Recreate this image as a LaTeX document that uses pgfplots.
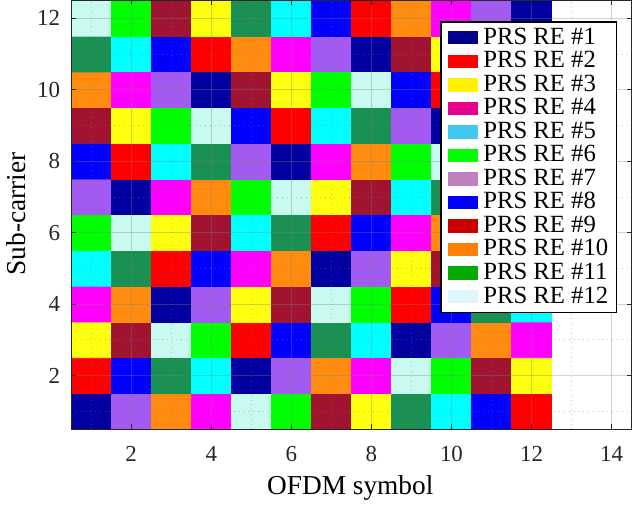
\documentclass[border=0pt]{standalone}
\usepackage{pgfplots}
\usepackage{pgfplotstable}
\pgfplotsset{compat=1.18}
\usepackage{fontspec}
\setmainfont{Liberation Serif}
\definecolor{axgray}{RGB}{38,38,38}
\definecolor{L1}{RGB}{0,0,140}
\definecolor{L2}{RGB}{255,0,0}
\definecolor{L3}{RGB}{255,240,0}
\definecolor{L4}{RGB}{230,0,140}
\definecolor{L5}{RGB}{64,200,240}
\definecolor{L6}{RGB}{0,255,0}
\definecolor{L7}{RGB}{190,128,190}
\definecolor{L8}{RGB}{0,0,255}
\definecolor{L9}{RGB}{200,0,0}
\definecolor{L10}{RGB}{255,128,0}
\definecolor{L11}{RGB}{0,170,0}
\definecolor{L12}{RGB}{225,245,255}
% PRS RE index per (OFDM symbol x, sub-carrier y)
\pgfplotstableread{
x y re
1 1 1
2 1 7
3 1 10
4 1 4
5 1 12
6 1 6
7 1 9
8 1 3
9 1 11
10 1 5
11 1 8
12 1 2
1 2 2
2 2 8
3 2 11
4 2 5
5 2 1
6 2 7
7 2 10
8 2 4
9 2 12
10 2 6
11 2 9
12 2 3
1 3 3
2 3 9
3 3 12
4 3 6
5 3 2
6 3 8
7 3 11
8 3 5
9 3 1
10 3 7
11 3 10
12 3 4
1 4 4
2 4 10
3 4 1
4 4 7
5 4 3
6 4 9
7 4 12
8 4 6
9 4 2
10 4 8
11 4 11
12 4 5
1 5 5
2 5 11
3 5 2
4 5 8
5 5 4
6 5 10
7 5 1
8 5 7
9 5 3
10 5 9
11 5 12
12 5 6
1 6 6
2 6 12
3 6 3
4 6 9
5 6 5
6 6 11
7 6 2
8 6 8
9 6 4
10 6 10
11 6 1
12 6 7
1 7 7
2 7 1
3 7 4
4 7 10
5 7 6
6 7 12
7 7 3
8 7 9
9 7 5
10 7 11
11 7 2
12 7 8
1 8 8
2 8 2
3 8 5
4 8 11
5 8 7
6 8 1
7 8 4
8 8 10
9 8 6
10 8 12
11 8 3
12 8 9
1 9 9
2 9 3
3 9 6
4 9 12
5 9 8
6 9 2
7 9 5
8 9 11
9 9 7
10 9 1
11 9 4
12 9 10
1 10 10
2 10 4
3 10 7
4 10 1
5 10 9
6 10 3
7 10 6
8 10 12
9 10 8
10 10 2
11 10 5
12 10 11
1 11 11
2 11 5
3 11 8
4 11 2
5 11 10
6 11 4
7 11 7
8 11 1
9 11 9
10 11 3
11 11 6
12 11 12
1 12 12
2 12 6
3 12 9
4 12 3
5 12 11
6 12 5
7 12 8
8 12 2
9 12 10
10 12 4
11 12 7
12 12 1
}\pattern
\begin{document}
\begin{tikzpicture}
\begin{axis}[
  scale only axis,
  width=281pt, height=215pt,
  xmin=0.5, xmax=14.5, ymin=0.5, ymax=12.5,
  xtick={2,4,...,14}, ytick={2,4,...,12},
  minor xtick={1,3,...,13}, minor ytick={1,3,...,11},
  grid=both,
  major grid style={gray, opacity=0.35, line width=0.35pt},
  minor grid style={gray, opacity=0.45, dotted, line width=0.35pt},
  axis on top,
  tick align=inside,
  major tick length=2.5pt, minor tick length=0pt,
  axis line style={axgray, line width=0.4pt},
  every tick/.style={axgray, line width=0.4pt},
  tick label style={font=\fontsize{11.5}{12}\selectfont, text=axgray},
  xticklabel style={yshift=-5pt},
  yticklabel style={xshift=-2pt},
  /pgf/number format/assume math mode=true,
  xlabel={OFDM symbol}, ylabel={Sub-carrier},
  label style={font=\fontsize{13.7}{14}\selectfont},
  xlabel style={at={(axis description cs:0.498,-0.138)}, anchor=center},
  ylabel style={at={(axis description cs:-0.098,0.502)}, anchor=center},
  colormap={prs}{rgb255=(0,0,160) rgb255=(255,0,0) rgb255=(255,255,16) rgb255=(255,0,255) rgb255=(0,255,255) rgb255=(0,255,0) rgb255=(162,90,240) rgb255=(0,0,255) rgb255=(160,20,50) rgb255=(255,140,16) rgb255=(26,144,82) rgb255=(200,250,240)},
  colormap access=direct,
  legend image code/.code={\fill[#1, draw=none] (0pt,-3.35pt) rectangle (15pt,3.35pt); \path[draw=none, fill=none] (0pt,0pt) -- (17pt,0pt);},
  legend style={at={(rel axis cs:0.9745,0.951)}, anchor=north east,
    draw=black, line width=0.6pt, fill=white,
    font=\fontsize{12.4}{12}\selectfont,
    inner xsep=3.6pt, inner ysep=2pt,
    row sep=0pt,
    nodes={inner sep=0.6pt, text height=8.5pt, text depth=2.1pt}},
  legend cell align=left,
]
\addplot[matrix plot*, mesh/cols=12, point meta={\thisrow{re}-1}, forget plot] table[x=x, y=y] {\pattern};
\addlegendimage{fill=L1}\addlegendentry{PRS RE \#1}
\addlegendimage{fill=L2}\addlegendentry{PRS RE \#2}
\addlegendimage{fill=L3}\addlegendentry{PRS RE \#3}
\addlegendimage{fill=L4}\addlegendentry{PRS RE \#4}
\addlegendimage{fill=L5}\addlegendentry{PRS RE \#5}
\addlegendimage{fill=L6}\addlegendentry{PRS RE \#6}
\addlegendimage{fill=L7}\addlegendentry{PRS RE \#7}
\addlegendimage{fill=L8}\addlegendentry{PRS RE \#8}
\addlegendimage{fill=L9}\addlegendentry{PRS RE \#9}
\addlegendimage{fill=L10}\addlegendentry{PRS RE \#10}
\addlegendimage{fill=L11}\addlegendentry{PRS RE \#11}
\addlegendimage{fill=L12}\addlegendentry{PRS RE \#12}
\end{axis}
\end{tikzpicture}
\end{document}
